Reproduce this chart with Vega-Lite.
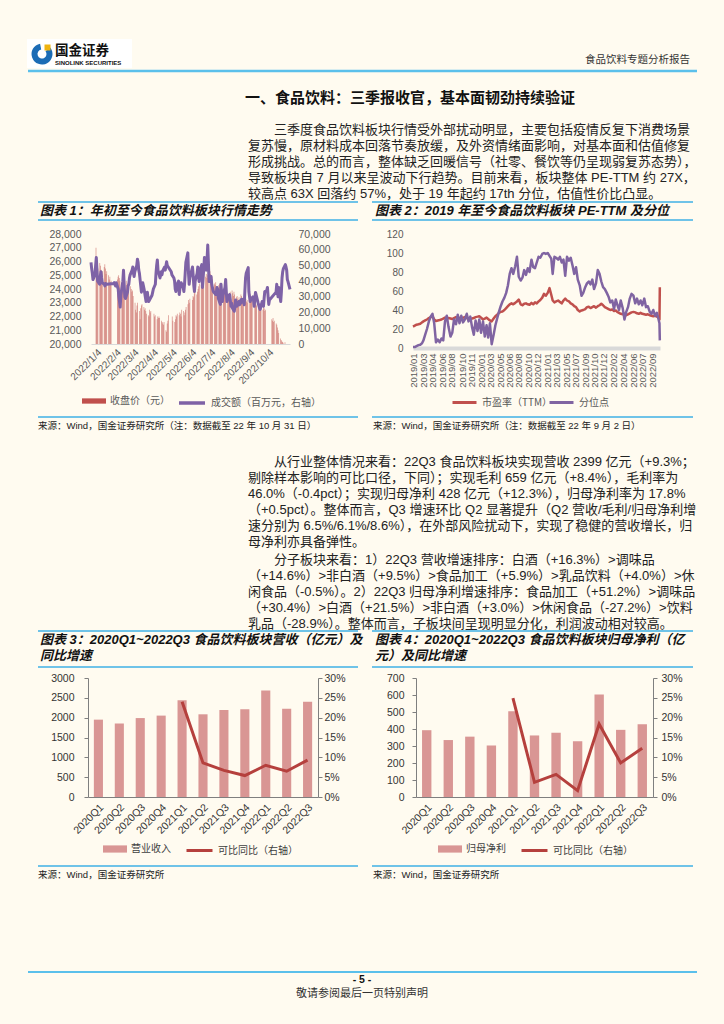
{
"$schema": "https://vega.github.io/schema/vega-lite/v6.json",
"background": "#fffbf0",
"padding": 0,
"width": 724,
"height": 1024,
"config": {
 "view": {"stroke": null},
 "font": "Liberation Sans",
 "axis": {"labelFont": "Liberation Sans", "labelColor": "#595959", "labelFontSize": 10, "grid": false, "title": null},
 "legend": {"labelFont": "Noto Sans CJK SC", "labelFontSize": 10, "labelColor": "#404040", "padding": 0, "labelLimit": 300, "title": null, "orient": "none"}
},
"datasets": {
 "c1": [
{"d":"2022-01-04","p":27000,"v":52000},{"d":"2022-01-05","p":26200,"v":48000},{"d":"2022-01-06","p":25800,"v":45000},{"d":"2022-01-07","p":25500,"v":41000},
{"d":"2022-01-10","p":25900,"v":44000},{"d":"2022-01-11","p":25700,"v":50000},{"d":"2022-01-12","p":25400,"v":55000},{"d":"2022-01-13","p":25200,"v":47000},{"d":"2022-01-14","p":25300,"v":40000},
{"d":"2022-01-17","p":25600,"v":38000},{"d":"2022-01-18","p":25800,"v":43000},{"d":"2022-01-19","p":25500,"v":46000},{"d":"2022-01-20","p":25100,"v":42000},{"d":"2022-01-21","p":25300,"v":39000},
{"d":"2022-01-24","p":25000,"v":38000},{"d":"2022-01-25","p":24700,"v":37000},{"d":"2022-01-26","p":24900,"v":38500},{"d":"2022-01-27","p":24500,"v":38000},{"d":"2022-01-28","p":24600,"v":38000},
{"d":"2022-02-07","p":24700,"v":38500},{"d":"2022-02-08","p":24900,"v":39000},{"d":"2022-02-09","p":25000,"v":38000},{"d":"2022-02-10","p":24800,"v":37000},{"d":"2022-02-11","p":24600,"v":39000},
{"d":"2022-02-14","p":24300,"v":35000},{"d":"2022-02-15","p":24500,"v":30000},{"d":"2022-02-16","p":24700,"v":27000},{"d":"2022-02-17","p":24900,"v":23500},{"d":"2022-02-18","p":24800,"v":31000},
{"d":"2022-02-21","p":24600,"v":40000},{"d":"2022-02-22","p":24300,"v":47000},{"d":"2022-02-23","p":24400,"v":38000},{"d":"2022-02-24","p":24000,"v":30000},{"d":"2022-02-25","p":24100,"v":29000},
{"d":"2022-02-28","p":24200,"v":33000},{"d":"2022-03-01","p":24000,"v":37000},{"d":"2022-03-02","p":23800,"v":38000},{"d":"2022-03-03","p":23900,"v":42000},{"d":"2022-03-04","p":23500,"v":44000},
{"d":"2022-03-07","p":23000,"v":47000},{"d":"2022-03-08","p":22500,"v":49000},{"d":"2022-03-09","p":22300,"v":45000},{"d":"2022-03-10","p":22800,"v":43000},{"d":"2022-03-11","p":23000,"v":46000},
{"d":"2022-03-14","p":22400,"v":50000},{"d":"2022-03-15","p":21800,"v":54000},{"d":"2022-03-16","p":22600,"v":52000},{"d":"2022-03-17","p":22800,"v":47000},{"d":"2022-03-18","p":22900,"v":45000},
{"d":"2022-03-21","p":22700,"v":33000},{"d":"2022-03-22","p":22500,"v":36000},{"d":"2022-03-23","p":22600,"v":39000},{"d":"2022-03-24","p":22400,"v":37000},{"d":"2022-03-25","p":22200,"v":35000},
{"d":"2022-03-28","p":22100,"v":27000},{"d":"2022-03-29","p":22000,"v":30000},{"d":"2022-03-30","p":22500,"v":33000},{"d":"2022-03-31","p":22300,"v":29000},{"d":"2022-04-01","p":22400,"v":27000},
{"d":"2022-04-06","p":22200,"v":31000},{"d":"2022-04-07","p":22000,"v":33000},{"d":"2022-04-08","p":22100,"v":35000},
{"d":"2022-04-11","p":21800,"v":38000},{"d":"2022-04-12","p":22000,"v":45000},{"d":"2022-04-13","p":21900,"v":50000},{"d":"2022-04-14","p":22000,"v":53500},{"d":"2022-04-15","p":21900,"v":47000},
{"d":"2022-04-18","p":21700,"v":42000},{"d":"2022-04-19","p":21600,"v":44000},{"d":"2022-04-20","p":21500,"v":46000},{"d":"2022-04-21","p":21400,"v":44000},{"d":"2022-04-22","p":21600,"v":46500},
{"d":"2022-04-25","p":21000,"v":49000},{"d":"2022-04-26","p":20900,"v":47000},{"d":"2022-04-27","p":21500,"v":50000},{"d":"2022-04-28","p":21700,"v":52300},{"d":"2022-04-29","p":22100,"v":50000},
{"d":"2022-05-05","p":22000,"v":46000},{"d":"2022-05-06","p":21700,"v":44000},
{"d":"2022-05-09","p":21600,"v":42000},{"d":"2022-05-10","p":21800,"v":40000},{"d":"2022-05-11","p":22100,"v":35000},{"d":"2022-05-12","p":22000,"v":33400},{"d":"2022-05-13","p":22200,"v":37000},
{"d":"2022-05-16","p":22100,"v":40000},{"d":"2022-05-17","p":22300,"v":31500},{"d":"2022-05-18","p":22200,"v":35000},{"d":"2022-05-19","p":22000,"v":37000},{"d":"2022-05-20","p":22500,"v":39000},
{"d":"2022-05-23","p":22400,"v":36000},{"d":"2022-05-24","p":22100,"v":33400},{"d":"2022-05-25","p":22300,"v":38000},{"d":"2022-05-26","p":22500,"v":45000},{"d":"2022-05-27","p":22700,"v":52000},
{"d":"2022-05-30","p":22900,"v":58000},{"d":"2022-05-31","p":23200,"v":45000},{"d":"2022-06-01","p":23000,"v":38000},{"d":"2022-06-02","p":23300,"v":42000},
{"d":"2022-06-06","p":23200,"v":49000},{"d":"2022-06-07","p":23500,"v":44000},{"d":"2022-06-08","p":23400,"v":37000},{"d":"2022-06-09","p":23700,"v":33400},{"d":"2022-06-10","p":23900,"v":40000},
{"d":"2022-06-13","p":23600,"v":45000},{"d":"2022-06-14","p":23800,"v":49000},{"d":"2022-06-15","p":24000,"v":44000},{"d":"2022-06-16","p":24200,"v":39700},{"d":"2022-06-17","p":24400,"v":46000},
{"d":"2022-06-20","p":24300,"v":50500},{"d":"2022-06-21","p":24600,"v":36000},{"d":"2022-06-22","p":24500,"v":42000},{"d":"2022-06-23","p":24800,"v":48000},{"d":"2022-06-24","p":25000,"v":55000},
{"d":"2022-06-27","p":24900,"v":47000},{"d":"2022-06-28","p":25100,"v":54000},{"d":"2022-06-29","p":24800,"v":63000},{"d":"2022-06-30","p":25000,"v":52000},{"d":"2022-07-01","p":25200,"v":39700},
{"d":"2022-07-04","p":25300,"v":43000},{"d":"2022-07-05","p":25100,"v":38000},{"d":"2022-07-06","p":24800,"v":36000},{"d":"2022-07-07","p":24900,"v":34000},{"d":"2022-07-08","p":24700,"v":33000},
{"d":"2022-07-11","p":24400,"v":31500},{"d":"2022-07-12","p":24300,"v":33000},{"d":"2022-07-13","p":24500,"v":36000},{"d":"2022-07-14","p":24200,"v":34700},{"d":"2022-07-15","p":24000,"v":29000},
{"d":"2022-07-18","p":24300,"v":25200},{"d":"2022-07-19","p":24400,"v":38000},{"d":"2022-07-20","p":24200,"v":32000},{"d":"2022-07-21","p":24000,"v":27000},{"d":"2022-07-22","p":24100,"v":31000},
{"d":"2022-07-25","p":23900,"v":36000},{"d":"2022-07-26","p":24000,"v":41000},{"d":"2022-07-27","p":24100,"v":33000},{"d":"2022-07-28","p":23800,"v":27000},{"d":"2022-07-29","p":23700,"v":29000},
{"d":"2022-08-01","p":23600,"v":31500},{"d":"2022-08-02","p":23300,"v":28000},{"d":"2022-08-03","p":23400,"v":24000},{"d":"2022-08-04","p":23700,"v":26000},{"d":"2022-08-05","p":23800,"v":23000},
{"d":"2022-08-08","p":23900,"v":20800},{"d":"2022-08-09","p":23700,"v":24000},{"d":"2022-08-10","p":23500,"v":28000},{"d":"2022-08-11","p":23800,"v":26000},{"d":"2022-08-12","p":23600,"v":24000},
{"d":"2022-08-15","p":23400,"v":27000},{"d":"2022-08-16","p":23500,"v":25000},{"d":"2022-08-17","p":23300,"v":27500},{"d":"2022-08-18","p":23200,"v":26000},{"d":"2022-08-19","p":23400,"v":28500},
{"d":"2022-08-22","p":23600,"v":28000},{"d":"2022-08-23","p":23500,"v":25000},{"d":"2022-08-24","p":23100,"v":34000},{"d":"2022-08-25","p":23000,"v":42000},{"d":"2022-08-26","p":23200,"v":45000},
{"d":"2022-08-29","p":23400,"v":48600},{"d":"2022-08-30","p":23300,"v":33400},{"d":"2022-08-31","p":23100,"v":30000},{"d":"2022-09-01","p":23000,"v":27000},{"d":"2022-09-02","p":23200,"v":28500},
{"d":"2022-09-05","p":23400,"v":30000},{"d":"2022-09-06","p":23600,"v":28000},{"d":"2022-09-07","p":23500,"v":24000},{"d":"2022-09-08","p":23300,"v":29000},{"d":"2022-09-09","p":23400,"v":32800},
{"d":"2022-09-13","p":23200,"v":26000},{"d":"2022-09-14","p":23000,"v":24500},{"d":"2022-09-15","p":22900,"v":23000},{"d":"2022-09-16","p":22800,"v":22000},
{"d":"2022-09-19","p":22700,"v":27000},{"d":"2022-09-20","p":22900,"v":25000},{"d":"2022-09-21","p":22800,"v":24000},{"d":"2022-09-22","p":22600,"v":29000},{"d":"2022-09-23","p":22700,"v":33400},
{"d":"2022-09-26","p":22500,"v":34000},{"d":"2022-09-27","p":22800,"v":36000},{"d":"2022-09-28","p":22600,"v":30000},{"d":"2022-09-29","p":22400,"v":25200},{"d":"2022-09-30","p":22500,"v":28000},
{"d":"2022-10-10","p":21800,"v":33000},{"d":"2022-10-11","p":21700,"v":38000},{"d":"2022-10-12","p":21900,"v":34000},{"d":"2022-10-13","p":21600,"v":30000},{"d":"2022-10-14","p":21700,"v":36000},
{"d":"2022-10-17","p":21500,"v":27000},{"d":"2022-10-18","p":21400,"v":33000},{"d":"2022-10-19","p":21200,"v":42000},{"d":"2022-10-20","p":21000,"v":46000},{"d":"2022-10-21","p":20800,"v":48000},
{"d":"2022-10-24","p":20400,"v":50500},{"d":"2022-10-25","p":20300,"v":49000},{"d":"2022-10-26","p":20200,"v":47000},{"d":"2022-10-27","p":20150,"v":41000},{"d":"2022-10-28","p":20100,"v":39700},
{"d":"2022-10-31","p":20120,"v":34700}
 ],
 "c2": [
{"d":"2019-01-01","pe":22.5,"pct":1},{"d":"2019-01-11","pe":23.5,"pct":1},{"d":"2019-01-21","pe":24.5,"pct":2},
{"d":"2019-02-01","pe":25,"pct":3},{"d":"2019-02-11","pe":25.5,"pct":3.5},{"d":"2019-02-21","pe":27,"pct":5},
{"d":"2019-03-01","pe":28,"pct":8},{"d":"2019-03-11","pe":29,"pct":14},{"d":"2019-03-21","pe":30,"pct":20},
{"d":"2019-04-01","pe":31.5,"pct":28},{"d":"2019-04-11","pe":32.5,"pct":33},{"d":"2019-04-21","pe":33.5,"pct":36},
{"d":"2019-05-01","pe":30,"pct":26},{"d":"2019-05-11","pe":28.5,"pct":6},{"d":"2019-05-21","pe":29,"pct":9},
{"d":"2019-06-01","pe":29.5,"pct":6},{"d":"2019-06-11","pe":30,"pct":10},{"d":"2019-06-21","pe":31,"pct":8},
{"d":"2019-07-01","pe":32,"pct":28},{"d":"2019-07-11","pe":31,"pct":34},{"d":"2019-07-21","pe":31.5,"pct":22},
{"d":"2019-08-01","pe":31,"pct":12},{"d":"2019-08-11","pe":30.5,"pct":16},{"d":"2019-08-21","pe":31.5,"pct":30},
{"d":"2019-09-01","pe":32.5,"pct":25},{"d":"2019-09-11","pe":32,"pct":35},{"d":"2019-09-21","pe":31.5,"pct":26},
{"d":"2019-10-01","pe":31,"pct":34},{"d":"2019-10-11","pe":32,"pct":27},{"d":"2019-10-21","pe":32.5,"pct":30},
{"d":"2019-11-01","pe":31.5,"pct":36},{"d":"2019-11-11","pe":31,"pct":28},{"d":"2019-11-21","pe":30.5,"pct":33},
{"d":"2019-12-01","pe":31,"pct":22},{"d":"2019-12-11","pe":31.5,"pct":14},{"d":"2019-12-21","pe":32.5,"pct":29},
{"d":"2020-01-01","pe":33,"pct":18},{"d":"2020-01-11","pe":33.5,"pct":30},{"d":"2020-01-21","pe":32,"pct":16},
{"d":"2020-02-01","pe":30,"pct":28},{"d":"2020-02-11","pe":31,"pct":12},{"d":"2020-02-21","pe":32,"pct":24},
{"d":"2020-03-01","pe":30.5,"pct":11},{"d":"2020-03-11","pe":29,"pct":26},{"d":"2020-03-21","pe":28,"pct":4},
{"d":"2020-04-01","pe":31,"pct":14},{"d":"2020-04-11","pe":33.5,"pct":24},{"d":"2020-04-21","pe":35,"pct":31},
{"d":"2020-05-01","pe":37,"pct":38},{"d":"2020-05-11","pe":38,"pct":44},{"d":"2020-05-21","pe":38.5,"pct":49},
{"d":"2020-06-01","pe":40,"pct":53},{"d":"2020-06-11","pe":42,"pct":58},{"d":"2020-06-21","pe":44,"pct":66},
{"d":"2020-07-01","pe":46,"pct":78},{"d":"2020-07-11","pe":47,"pct":84},{"d":"2020-07-21","pe":46,"pct":78},
{"d":"2020-08-01","pe":47.5,"pct":86},{"d":"2020-08-11","pe":49,"pct":96},{"d":"2020-08-21","pe":51,"pct":75},
{"d":"2020-09-01","pe":46,"pct":71},{"d":"2020-09-11","pe":45,"pct":74},{"d":"2020-09-21","pe":46.5,"pct":82},
{"d":"2020-10-01","pe":47,"pct":77},{"d":"2020-10-11","pe":46,"pct":84},{"d":"2020-10-21","pe":45.5,"pct":80},
{"d":"2020-11-01","pe":47.5,"pct":93},{"d":"2020-11-11","pe":46,"pct":85},{"d":"2020-11-21","pe":48,"pct":84},
{"d":"2020-12-01","pe":47,"pct":90},{"d":"2020-12-11","pe":49,"pct":96},{"d":"2020-12-21","pe":50.5,"pct":95},
{"d":"2021-01-01","pe":53,"pct":99},{"d":"2021-01-11","pe":57,"pct":100},{"d":"2021-01-21","pe":55,"pct":99},
{"d":"2021-02-01","pe":58,"pct":100},{"d":"2021-02-11","pe":63,"pct":97},{"d":"2021-02-21","pe":56,"pct":94},
{"d":"2021-03-01","pe":50,"pct":78},{"d":"2021-03-11","pe":48,"pct":96},{"d":"2021-03-21","pe":49,"pct":95},
{"d":"2021-04-01","pe":50,"pct":93},{"d":"2021-04-11","pe":48.5,"pct":96},{"d":"2021-04-21","pe":47,"pct":90},
{"d":"2021-05-01","pe":50,"pct":93},{"d":"2021-05-11","pe":52,"pct":76},{"d":"2021-05-21","pe":50,"pct":96},
{"d":"2021-06-01","pe":49,"pct":92},{"d":"2021-06-11","pe":47,"pct":95},{"d":"2021-06-21","pe":46,"pct":87},
{"d":"2021-07-01","pe":44,"pct":78},{"d":"2021-07-11","pe":43,"pct":85},{"d":"2021-07-21","pe":40,"pct":72},
{"d":"2021-08-01","pe":38.5,"pct":66},{"d":"2021-08-11","pe":39.5,"pct":55},{"d":"2021-08-21","pe":40,"pct":58},
{"d":"2021-09-01","pe":41,"pct":64},{"d":"2021-09-11","pe":43,"pct":68},{"d":"2021-09-21","pe":43.5,"pct":70},
{"d":"2021-10-01","pe":42,"pct":67},{"d":"2021-10-11","pe":43,"pct":72},{"d":"2021-10-21","pe":44,"pct":62},
{"d":"2021-11-01","pe":42.5,"pct":68},{"d":"2021-11-11","pe":44,"pct":82},{"d":"2021-11-21","pe":45,"pct":78},
{"d":"2021-12-01","pe":46.5,"pct":70},{"d":"2021-12-11","pe":45,"pct":64},{"d":"2021-12-21","pe":43,"pct":62},
{"d":"2022-01-01","pe":42,"pct":58},{"d":"2022-01-11","pe":41,"pct":54},{"d":"2022-01-21","pe":40,"pct":48},
{"d":"2022-02-01","pe":40.5,"pct":50},{"d":"2022-02-11","pe":39,"pct":41},{"d":"2022-02-21","pe":39.5,"pct":51},
{"d":"2022-03-01","pe":38,"pct":46},{"d":"2022-03-11","pe":37,"pct":40},{"d":"2022-03-21","pe":36,"pct":50},
{"d":"2022-04-01","pe":35.5,"pct":42},{"d":"2022-04-11","pe":36,"pct":30},{"d":"2022-04-21","pe":34.5,"pct":38},
{"d":"2022-05-01","pe":35.5,"pct":43},{"d":"2022-05-11","pe":36.5,"pct":52},{"d":"2022-05-21","pe":37.5,"pct":57},
{"d":"2022-06-01","pe":38,"pct":55},{"d":"2022-06-11","pe":37.5,"pct":47},{"d":"2022-06-21","pe":36.5,"pct":52},
{"d":"2022-07-01","pe":36,"pct":46},{"d":"2022-07-11","pe":37,"pct":50},{"d":"2022-07-21","pe":36,"pct":45},
{"d":"2022-08-01","pe":35.5,"pct":52},{"d":"2022-08-11","pe":35,"pct":43},{"d":"2022-08-21","pe":35.5,"pct":44},
{"d":"2022-09-01","pe":34.5,"pct":38},{"d":"2022-09-11","pe":34,"pct":36},{"d":"2022-09-21","pe":33.5,"pct":40},
{"d":"2022-10-01","pe":34,"pct":34},{"d":"2022-10-11","pe":33,"pct":37},{"d":"2022-10-21","pe":32.5,"pct":30},
{"d":"2022-10-26","pe":30,"pct":26},{"d":"2022-10-28","pe":64,"pct":8}
 ],
 "c3": [
  {"q": "2020Q1", "rev": 1950, "yoy": null}, {"q": "2020Q2", "rev": 1856, "yoy": null}, {"q": "2020Q3", "rev": 1990, "yoy": null}, {"q": "2020Q4", "rev": 2052, "yoy": null},
  {"q": "2021Q1", "rev": 2440, "yoy": 0.240}, {"q": "2021Q2", "rev": 2085, "yoy": 0.086}, {"q": "2021Q3", "rev": 2195, "yoy": 0.067}, {"q": "2021Q4", "rev": 2212, "yoy": 0.054},
  {"q": "2022Q1", "rev": 2687, "yoy": 0.080}, {"q": "2022Q2", "rev": 2225, "yoy": 0.065}, {"q": "2022Q3", "rev": 2399, "yoy": 0.093}
 ],
 "c4": [
  {"q": "2020Q1", "np": 393, "yoy": null}, {"q": "2020Q2", "np": 335, "yoy": null}, {"q": "2020Q3", "np": 355, "yoy": null}, {"q": "2020Q4", "np": 303, "yoy": null},
  {"q": "2021Q1", "np": 505, "yoy": 0.249}, {"q": "2021Q2", "np": 362, "yoy": 0.037}, {"q": "2021Q3", "np": 378, "yoy": 0.057}, {"q": "2021Q4", "np": 328, "yoy": 0.016},
  {"q": "2022Q1", "np": 603, "yoy": 0.184}, {"q": "2022Q2", "np": 395, "yoy": 0.086}, {"q": "2022Q3", "np": 428, "yoy": 0.123}
 ]
},
"data": {"values": [{}]},
"layer": [
 {"mark": {"type": "rect", "fill": "#ffffff"}, "encoding": {"x": {"value": 27}, "x2": {"value": 132}, "y": {"value": 39}, "y2": {"value": 68}}},
 {"mark": {"type": "arc", "theta": 0.9, "theta2": 6.1, "innerRadius": 4.5, "outerRadius": 10.5, "fill": "#1b6cb5"}, "encoding": {"x": {"value": 42}, "y": {"value": 54}}},
 {"mark": {"type": "square", "size": 36, "fill": "#efb30f", "opacity": 1}, "encoding": {"x": {"value": 47.5}, "y": {"value": 47.5}}},
 {"data": {"values": [{"t": "国金证券"}]}, "mark": {"type": "text", "font": "Noto Sans CJK SC", "fontWeight": "bold", "fontSize": 13.5, "align": "left", "baseline": "middle", "color": "#111111"}, "encoding": {"x": {"value": 55}, "y": {"value": 51}, "text": {"field": "t"}}},
 {"data": {"values": [{"t": "SINOLINK SECURITIES"}]}, "mark": {"type": "text", "font": "Liberation Sans", "fontWeight": "bold", "fontSize": 6, "align": "left", "baseline": "middle", "color": "#111111"}, "encoding": {"x": {"value": 55}, "y": {"value": 63}, "text": {"field": "t"}}},
 {"data": {"values": [{"t": "食品饮料专题分析报告"}]}, "mark": {"type": "text", "font": "Noto Sans CJK SC", "fontSize": 10.5, "align": "right", "baseline": "middle", "color": "#333333"}, "encoding": {"x": {"value": 690}, "y": {"value": 60}, "text": {"field": "t"}}},
 {"mark": {"type": "rule", "stroke": "#5bc0eb", "strokeWidth": 2.5}, "encoding": {"x": {"value": 28}, "x2": {"value": 697}, "y": {"value": 71}}},
 {"data": {"values": [{"t": "一、食品饮料：三季报收官，基本面韧劲持续验证"}]}, "mark": {"type": "text", "font": "Noto Sans CJK SC", "fontWeight": "bold", "fontSize": 15, "align": "left", "baseline": "middle", "color": "#111111"}, "encoding": {"x": {"value": 245}, "y": {"value": 98}, "text": {"field": "t"}}},
 {"data": {"values": [{"t": "三季度食品饮料板块行情受外部扰动明显，主要包括疫情反复下消费场景"}]},
  "mark": {"type": "text", "font": "Liberation Sans, Noto Sans CJK SC", "fontSize": 13, "align": "left", "baseline": "middle", "color": "#222222"},
  "encoding": {"x": {"value": 274}, "y": {"value": 130}, "text": {"field": "t"}}},
 {"data": {"values": [
   {"i": 1, "t": "复苏慢，原材料成本回落节奏放缓，及外资情绪面影响，对基本面和估值修复"},
   {"i": 2, "t": "形成挑战。总的而言，整体缺乏回暖信号（社零、餐饮等仍呈现弱复苏态势），"},
   {"i": 3, "t": "导致板块自 7 月以来呈波动下行趋势。目前来看，板块整体 PE-TTM 约 27X，"},
   {"i": 4, "t": "较高点 63X 回落约 57%，处于 19 年起约 17th 分位，估值性价比凸显。"}
  ]},
  "mark": {"type": "text", "font": "Liberation Sans, Noto Sans CJK SC", "fontSize": 13, "align": "left", "baseline": "middle", "color": "#222222"},
  "encoding": {"x": {"value": 248}, "y": {"field": "i", "type": "quantitative", "scale": {"domain": [0, 4], "range": [130, 194], "nice": false, "zero": false}, "axis": null}, "text": {"field": "t"}}},
 {"mark": {"type": "rule", "stroke": "#3fb0e6", "strokeWidth": 1.5}, "encoding": {"x": {"value": 38}, "x2": {"value": 358}, "y": {"value": 202}}},
 {"mark": {"type": "rule", "stroke": "#3fb0e6", "strokeWidth": 1.5}, "encoding": {"x": {"value": 38}, "x2": {"value": 358}, "y": {"value": 220}}},
 {"mark": {"type": "rule", "stroke": "#3fb0e6", "strokeWidth": 1.5}, "encoding": {"x": {"value": 372}, "x2": {"value": 693}, "y": {"value": 202}}},
 {"mark": {"type": "rule", "stroke": "#3fb0e6", "strokeWidth": 1.5}, "encoding": {"x": {"value": 372}, "x2": {"value": 693}, "y": {"value": 220}}},
 {"data": {"values": [{"t": "图表 1：年初至今食品饮料板块行情走势"}]}, "mark": {"type": "text", "font": "Liberation Sans, Noto Sans CJK SC", "fontWeight": "bold", "fontStyle": "italic", "fontSize": 13, "align": "left", "baseline": "middle", "color": "#111111"}, "encoding": {"x": {"value": 40}, "y": {"value": 211}, "text": {"field": "t"}}},
 {"data": {"values": [{"t": "图表 2：2019 年至今食品饮料板块 PE-TTM 及分位"}]}, "mark": {"type": "text", "font": "Liberation Sans, Noto Sans CJK SC", "fontWeight": "bold", "fontStyle": "italic", "fontSize": 13, "align": "left", "baseline": "middle", "color": "#111111"}, "encoding": {"x": {"value": 375}, "y": {"value": 211}, "text": {"field": "t"}}},

 {"data": {"name": "c1"}, "mark": {"type": "bar", "width": 0.75, "opacity": 0.6},
  "encoding": {
   "x": {"field": "d", "type": "temporal", "scale": {"type": "utc", "domain": [{"year": 2022, "month": 1, "date": 4, "utc": true}, {"year": 2022, "month": 10, "date": 31, "utc": true}], "range": [91, 290]},
         "axis": {"orient": "bottom", "offset": -680, "values": [{"year":2022,"month":1,"date":4,"utc":true},{"year":2022,"month":2,"date":4,"utc":true},{"year":2022,"month":3,"date":4,"utc":true},{"year":2022,"month":4,"date":4,"utc":true},{"year":2022,"month":5,"date":4,"utc":true},{"year":2022,"month":6,"date":4,"utc":true},{"year":2022,"month":7,"date":4,"utc":true},{"year":2022,"month":8,"date":4,"utc":true},{"year":2022,"month":9,"date":4,"utc":true},{"year":2022,"month":10,"date":4,"utc":true}],
                  "format": "%Y/%-m/%-d", "labelAngle": -45, "labelAlign": "right", "labelBaseline": "top", "labelPadding": 3, "labelOverlap": false, "labelSeparation": 0, "labelFlush": false, "ticks": false, "domain": true, "domainColor": "#d9d9d9", "labelFontSize": 10}},
   "y": {"field": "p", "type": "quantitative", "scale": {"domain": [20000, 28000], "range": [344, 234], "nice": false, "zero": false},
         "axis": {"orient": "left", "offset": -91, "values": [20000, 21000, 22000, 23000, 24000, 25000, 26000, 27000, 28000], "format": ",.0f", "ticks": false, "domain": false, "labelPadding": 10, "labelFontSize": 10.5}},
   "y2": {"datum": 20000},
   "fill": {"datum": "收盘价（元）", "type": "nominal", "scale": {"range": ["#c0504d"]},
            "legend": {"legendX": 82, "legendY": 389, "symbolType": "M-1,-0.22H1V0.22H-1Z", "symbolSize": 576, "symbolStrokeWidth": 0, "symbolOpacity": 1, "labelColor": "#595959"}}
  }},
 {"data": {"name": "c1"}, "mark": {"type": "line", "strokeWidth": 3, "strokeJoin": "round"},
  "encoding": {
   "x": {"field": "d", "type": "temporal", "scale": {"type": "utc", "domain": [{"year": 2022, "month": 1, "date": 4, "utc": true}, {"year": 2022, "month": 10, "date": 31, "utc": true}], "range": [91, 290]}, "axis": null},
   "y": {"field": "v", "type": "quantitative", "scale": {"domain": [0, 70000], "range": [344, 234], "nice": false},
         "axis": {"orient": "right", "offset": -434, "values": [0, 10000, 20000, 30000, 40000, 50000, 60000, 70000], "format": ",.0f", "ticks": false, "domain": false, "labelPadding": 8, "labelFontSize": 10.5}},
   "stroke": {"datum": "成交额（百万元，右轴）", "type": "nominal", "scale": {"range": ["#7e62a6"]},
              "legend": {"legendX": 177, "legendY": 388, "symbolType": "stroke", "symbolSize": 676, "symbolStrokeWidth": 3.5, "labelColor": "#595959"}}
  }},

 {"data": {"name": "c2"}, "mark": {"type": "line", "strokeWidth": 2.5, "strokeJoin": "round"},
  "encoding": {
   "x": {"field": "d", "type": "temporal", "scale": {"type": "utc", "domain": [{"year": 2019, "month": 1, "date": 1, "utc": true}, {"year": 2022, "month": 10, "date": 29, "utc": true}], "range": [413, 660]},
         "axis": {"orient": "bottom", "offset": -676, "format": "%Y/%m", "labelAngle": 270, "labelAlign": "right", "labelBaseline": "middle", "labelPadding": 5, "labelOverlap": false, "labelSeparation": 0, "labelFlush": false, "ticks": false, "domain": true, "domainColor": "#d9d9d9", "domainWidth": 4, "labelFontSize": 9.5,
                  "values": [{"year":2019,"month":1,"date":2,"utc":true},{"year":2019,"month":3,"date":1,"utc":true},{"year":2019,"month":4,"date":24,"utc":true},{"year":2019,"month":6,"date":17,"utc":true},{"year":2019,"month":8,"date":9,"utc":true},{"year":2019,"month":10,"date":8,"utc":true},{"year":2019,"month":11,"date":28,"utc":true},{"year":2020,"month":1,"date":21,"utc":true},{"year":2020,"month":3,"date":16,"utc":true},{"year":2020,"month":5,"date":8,"utc":true},{"year":2020,"month":6,"date":30,"utc":true},{"year":2020,"month":8,"date":21,"utc":true},{"year":2020,"month":10,"date":15,"utc":true},{"year":2020,"month":12,"date":7,"utc":true},{"year":2021,"month":1,"date":29,"utc":true},{"year":2021,"month":3,"date":24,"utc":true},{"year":2021,"month":5,"date":18,"utc":true},{"year":2021,"month":7,"date":9,"utc":true},{"year":2021,"month":9,"date":1,"utc":true},{"year":2021,"month":10,"date":25,"utc":true},{"year":2021,"month":12,"date":16,"utc":true},{"year":2022,"month":2,"date":10,"utc":true},{"year":2022,"month":4,"date":6,"utc":true},{"year":2022,"month":6,"date":1,"utc":true},{"year":2022,"month":7,"date":22,"utc":true},{"year":2022,"month":9,"date":14,"utc":true}]}},
   "y": {"field": "pe", "type": "quantitative", "scale": {"domain": [0, 120], "range": [348, 234], "nice": false},
         "axis": {"orient": "left", "offset": -413, "values": [0, 20, 40, 60, 80, 100, 120], "ticks": false, "domain": false, "labelPadding": 10, "labelFontSize": 10}},
   "stroke": {"datum": "市盈率（TTM）", "type": "nominal", "scale": {"range": ["#c0504d"]},
              "legend": {"legendX": 451, "legendY": 389, "symbolType": "stroke", "symbolSize": 576, "symbolStrokeWidth": 3, "labelColor": "#595959"}}
  }},
 {"data": {"name": "c2"}, "mark": {"type": "line", "strokeWidth": 2.5, "strokeJoin": "round"},
  "encoding": {
   "x": {"field": "d", "type": "temporal", "scale": {"type": "utc", "domain": [{"year": 2019, "month": 1, "date": 1, "utc": true}, {"year": 2022, "month": 10, "date": 29, "utc": true}], "range": [413, 660]}, "axis": null},
   "y": {"field": "pct", "type": "quantitative", "scale": {"domain": [0, 120], "range": [348, 234], "nice": false}, "axis": null},
   "stroke": {"datum": "分位点", "type": "nominal", "scale": {"range": ["#8064a2"]},
              "legend": {"legendX": 548, "legendY": 389, "symbolType": "stroke", "symbolSize": 576, "symbolStrokeWidth": 3, "labelColor": "#595959"}}
  }},

 {"mark": {"type": "rule", "stroke": "#3fb0e6", "strokeWidth": 1.5}, "encoding": {"x": {"value": 38}, "x2": {"value": 358}, "y": {"value": 417}}},
 {"mark": {"type": "rule", "stroke": "#3fb0e6", "strokeWidth": 1.5}, "encoding": {"x": {"value": 372}, "x2": {"value": 693}, "y": {"value": 417}}},
 {"data": {"values": [{"t": "来源：Wind，国金证券研究所（注：数据截至 22 年 10 月 31 日）"}]}, "mark": {"type": "text", "font": "Liberation Sans, Noto Sans CJK SC", "fontSize": 9.5, "align": "left", "baseline": "middle", "color": "#222222"}, "encoding": {"x": {"value": 38}, "y": {"value": 426}, "text": {"field": "t"}}},
 {"data": {"values": [{"t": "来源：Wind，国金证券研究所（注：数据截至 22 年 9 月 2 日）"}]}, "mark": {"type": "text", "font": "Liberation Sans, Noto Sans CJK SC", "fontSize": 9.5, "align": "left", "baseline": "middle", "color": "#222222"}, "encoding": {"x": {"value": 373}, "y": {"value": 426}, "text": {"field": "t"}}},
 {"data": {"values": [{"t": "从行业整体情况来看：22Q3 食品饮料板块实现营收 2399 亿元（+9.3%；"}]},
  "mark": {"type": "text", "font": "Liberation Sans, Noto Sans CJK SC", "fontSize": 13, "align": "left", "baseline": "middle", "color": "#222222"},
  "encoding": {"x": {"value": 274}, "y": {"value": 462}, "text": {"field": "t"}}},
 {"data": {"values": [
   {"i": 1, "t": "剔除样本影响的可比口径，下同）；实现毛利 659 亿元（+8.4%），毛利率为"},
   {"i": 2, "t": "46.0%（-0.4pct）；实现归母净利 428 亿元（+12.3%），归母净利率为 17.8%"},
   {"i": 3, "t": "（+0.5pct）。整体而言，Q3 增速环比 Q2 显著提升（Q2 营收/毛利/归母净利增"},
   {"i": 4, "t": "速分别为 6.5%/6.1%/8.6%），在外部风险扰动下，实现了稳健的营收增长，归"},
   {"i": 5, "t": "母净利亦具备弹性。"}
  ]},
  "mark": {"type": "text", "font": "Liberation Sans, Noto Sans CJK SC", "fontSize": 13, "align": "left", "baseline": "middle", "color": "#222222"},
  "encoding": {"x": {"value": 248}, "y": {"field": "i", "type": "quantitative", "scale": {"domain": [0, 5], "range": [462, 542], "nice": false, "zero": false}, "axis": null}, "text": {"field": "t"}}},
 {"data": {"values": [{"t": "分子板块来看：1）22Q3 营收增速排序：白酒（+16.3%）>调味品"}]},
  "mark": {"type": "text", "font": "Liberation Sans, Noto Sans CJK SC", "fontSize": 13, "align": "left", "baseline": "middle", "color": "#222222"},
  "encoding": {"x": {"value": 274}, "y": {"value": 560}, "text": {"field": "t"}}},
 {"data": {"values": [
   {"j": 1, "t": "（+14.6%）>非白酒（+9.5%）>食品加工（+5.9%）>乳品饮料（+4.0%）>休"},
   {"j": 2, "t": "闲食品（-0.5%）。2）22Q3 归母净利增速排序：食品加工（+51.2%）>调味品"},
   {"j": 3, "t": "（+30.4%）>白酒（+21.5%）>非白酒（+3.0%）>休闲食品（-27.2%）>饮料"},
   {"j": 4, "t": "乳品（-28.9%）。整体而言，子板块间呈现明显分化，利润波动相对较高。"}
  ]},
  "mark": {"type": "text", "font": "Liberation Sans, Noto Sans CJK SC", "fontSize": 13, "align": "left", "baseline": "middle", "color": "#222222"},
  "encoding": {"x": {"value": 248}, "y": {"field": "j", "type": "quantitative", "scale": {"domain": [0, 4], "range": [560, 624], "nice": false, "zero": false}, "axis": null}, "text": {"field": "t"}}},
 {"mark": {"type": "rule", "stroke": "#3fb0e6", "strokeWidth": 1.5}, "encoding": {"x": {"value": 38}, "x2": {"value": 358}, "y": {"value": 631}}},
 {"mark": {"type": "rule", "stroke": "#3fb0e6", "strokeWidth": 1.5}, "encoding": {"x": {"value": 38}, "x2": {"value": 358}, "y": {"value": 667}}},
 {"mark": {"type": "rule", "stroke": "#3fb0e6", "strokeWidth": 1.5}, "encoding": {"x": {"value": 372}, "x2": {"value": 693}, "y": {"value": 631}}},
 {"mark": {"type": "rule", "stroke": "#3fb0e6", "strokeWidth": 1.5}, "encoding": {"x": {"value": 372}, "x2": {"value": 693}, "y": {"value": 667}}},
 {"data": {"values": [{"t": "图表 3：2020Q1~2022Q3 食品饮料板块营收（亿元）及"}]}, "mark": {"type": "text", "font": "Liberation Sans, Noto Sans CJK SC", "fontWeight": "bold", "fontStyle": "italic", "fontSize": 13, "align": "left", "baseline": "middle", "color": "#111111"}, "encoding": {"x": {"value": 40}, "y": {"value": 640}, "text": {"field": "t"}}},
 {"data": {"values": [{"t": "同比增速"}]}, "mark": {"type": "text", "font": "Liberation Sans, Noto Sans CJK SC", "fontWeight": "bold", "fontStyle": "italic", "fontSize": 13, "align": "left", "baseline": "middle", "color": "#111111"}, "encoding": {"x": {"value": 40}, "y": {"value": 656}, "text": {"field": "t"}}},
 {"data": {"values": [{"t": "图表 4：2020Q1~2022Q3 食品饮料板块归母净利（亿"}]}, "mark": {"type": "text", "font": "Liberation Sans, Noto Sans CJK SC", "fontWeight": "bold", "fontStyle": "italic", "fontSize": 13, "align": "left", "baseline": "middle", "color": "#111111"}, "encoding": {"x": {"value": 375}, "y": {"value": 640}, "text": {"field": "t"}}},
 {"data": {"values": [{"t": "元）及同比增速"}]}, "mark": {"type": "text", "font": "Liberation Sans, Noto Sans CJK SC", "fontWeight": "bold", "fontStyle": "italic", "fontSize": 13, "align": "left", "baseline": "middle", "color": "#111111"}, "encoding": {"x": {"value": 375}, "y": {"value": 656}, "text": {"field": "t"}}},

 {"data": {"name": "c3"}, "mark": {"type": "bar"},
  "encoding": {
   "x": {"field": "q", "type": "ordinal", "sort": null, "scale": {"range": [88, 318], "paddingInner": 0.565, "paddingOuter": 0.28},
         "axis": {"orient": "bottom", "offset": -227, "labelAngle": -45, "labelAlign": "right", "labelBaseline": "top", "labelPadding": 5, "ticks": false, "domain": true, "domainColor": "#7f7f7f", "labelFontSize": 10.5, "labelColor": "#333333"}},
   "y": {"field": "rev", "type": "quantitative", "scale": {"domain": [0, 3000], "range": [797, 678], "nice": false},
         "axis": {"orient": "left", "offset": -88, "values": [0, 500, 1000, 1500, 2000, 2500, 3000], "format": "d", "domain": true, "domainColor": "#7f7f7f", "ticks": true, "tickColor": "#7f7f7f", "tickSize": 4, "labelPadding": 10, "labelFontSize": 10.5, "labelColor": "#333333"}},
   "fill": {"datum": "营业收入", "type": "nominal", "scale": {"range": ["#d99694"]},
            "legend": {"legendX": 103, "legendY": 837, "symbolType": "M-1,-0.3H1V0.3H-1Z", "symbolSize": 576, "symbolStrokeWidth": 0}}
  }},
 {"data": {"name": "c3"}, "mark": {"type": "line", "strokeWidth": 3},
  "encoding": {
   "x": {"field": "q", "type": "ordinal", "sort": null, "scale": {"range": [88, 318], "paddingInner": 0.565, "paddingOuter": 0.28}, "axis": null},
   "y": {"field": "yoy", "type": "quantitative", "scale": {"domain": [0, 0.3], "range": [797, 678], "nice": false},
         "axis": {"orient": "right", "offset": -406, "values": [0, 0.05, 0.1, 0.15, 0.2, 0.25, 0.3], "format": ".0%", "domain": true, "domainColor": "#7f7f7f", "ticks": true, "tickColor": "#7f7f7f", "tickSize": 4, "labelPadding": 2, "labelFontSize": 10.5, "labelColor": "#333333"}},
   "stroke": {"datum": "可比同比（右轴）", "type": "nominal", "scale": {"range": ["#b5403d"]},
              "legend": {"legendX": 185, "legendY": 836, "symbolType": "stroke", "symbolSize": 676, "symbolStrokeWidth": 3}}
  }},
 {"data": {"name": "c4"}, "mark": {"type": "bar"},
  "encoding": {
   "x": {"field": "q", "type": "ordinal", "sort": null, "scale": {"range": [416, 653], "paddingInner": 0.565, "paddingOuter": 0.28},
         "axis": {"orient": "bottom", "offset": -227, "labelAngle": -45, "labelAlign": "right", "labelBaseline": "top", "labelPadding": 5, "ticks": false, "domain": true, "domainColor": "#7f7f7f", "labelFontSize": 10.5, "labelColor": "#333333"}},
   "y": {"field": "np", "type": "quantitative", "scale": {"domain": [0, 700], "range": [797, 678], "nice": false},
         "axis": {"orient": "left", "offset": -416, "values": [0, 100, 200, 300, 400, 500, 600, 700], "format": "d", "domain": true, "domainColor": "#7f7f7f", "ticks": true, "tickColor": "#7f7f7f", "tickSize": 4, "labelPadding": 8, "labelFontSize": 10.5, "labelColor": "#333333"}},
   "fill": {"datum": "归母净利", "type": "nominal", "scale": {"range": ["#d99694"]},
            "legend": {"legendX": 438, "legendY": 837, "symbolType": "M-1,-0.3H1V0.3H-1Z", "symbolSize": 576, "symbolStrokeWidth": 0}}
  }},
 {"data": {"name": "c4"}, "mark": {"type": "line", "strokeWidth": 3},
  "encoding": {
   "x": {"field": "q", "type": "ordinal", "sort": null, "scale": {"range": [416, 653], "paddingInner": 0.565, "paddingOuter": 0.28}, "axis": null},
   "y": {"field": "yoy", "type": "quantitative", "scale": {"domain": [0, 0.3], "range": [797, 678], "nice": false},
         "axis": {"orient": "right", "offset": -71, "values": [0, 0.05, 0.1, 0.15, 0.2, 0.25, 0.3], "format": ".0%", "domain": true, "domainColor": "#7f7f7f", "ticks": true, "tickColor": "#7f7f7f", "tickSize": 4, "labelPadding": 4, "labelFontSize": 10.5, "labelColor": "#333333"}},
   "stroke": {"datum": "可比同比（右轴）", "type": "nominal", "scale": {"range": ["#b5403d"]},
              "legend": {"legendX": 520, "legendY": 836, "symbolType": "stroke", "symbolSize": 676, "symbolStrokeWidth": 3}}
  }},

 {"mark": {"type": "rule", "stroke": "#3fb0e6", "strokeWidth": 1.5}, "encoding": {"x": {"value": 38}, "x2": {"value": 358}, "y": {"value": 866}}},
 {"mark": {"type": "rule", "stroke": "#3fb0e6", "strokeWidth": 1.5}, "encoding": {"x": {"value": 372}, "x2": {"value": 693}, "y": {"value": 866}}},
 {"data": {"values": [{"t": "来源：Wind，国金证券研究所"}]}, "mark": {"type": "text", "font": "Liberation Sans, Noto Sans CJK SC", "fontSize": 9.5, "align": "left", "baseline": "middle", "color": "#222222"}, "encoding": {"x": {"value": 38}, "y": {"value": 875}, "text": {"field": "t"}}},
 {"data": {"values": [{"t": "来源：Wind，国金证券研究所"}]}, "mark": {"type": "text", "font": "Liberation Sans, Noto Sans CJK SC", "fontSize": 9.5, "align": "left", "baseline": "middle", "color": "#222222"}, "encoding": {"x": {"value": 373}, "y": {"value": 875}, "text": {"field": "t"}}},
 {"mark": {"type": "rule", "stroke": "#5bc0eb", "strokeWidth": 2}, "encoding": {"x": {"value": 28}, "x2": {"value": 697}, "y": {"value": 972}}},
 {"data": {"values": [{"t": "- 5 -"}]}, "mark": {"type": "text", "font": "Liberation Sans", "fontWeight": "bold", "fontSize": 10.5, "align": "center", "baseline": "middle", "color": "#111111"}, "encoding": {"x": {"value": 362}, "y": {"value": 980}, "text": {"field": "t"}}},
 {"data": {"values": [{"t": "敬请参阅最后一页特别声明"}]}, "mark": {"type": "text", "font": "Noto Sans CJK SC", "fontSize": 11, "align": "center", "baseline": "middle", "color": "#333333"}, "encoding": {"x": {"value": 362}, "y": {"value": 994}, "text": {"field": "t"}}}
],
"resolve": {
 "scale": {"x": "independent", "y": "independent", "fill": "independent", "stroke": "independent"},
 "axis": {"x": "independent", "y": "independent"},
 "legend": {"fill": "independent", "stroke": "independent"}
}
}
